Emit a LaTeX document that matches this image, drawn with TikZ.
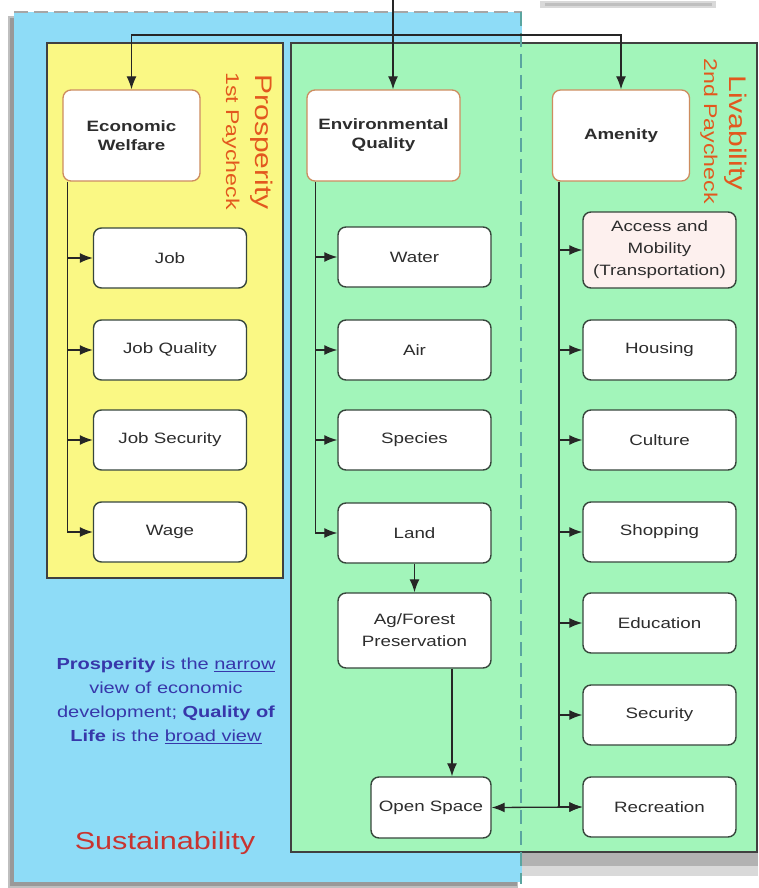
\documentclass[tikz,border=0pt]{standalone}
\usepackage{fontspec}
\setmainfont[FakeStretch=1.25]{Liberation Sans}
\usetikzlibrary{arrows.meta}
\definecolor{skyb}{RGB}{142,220,247}
\definecolor{yel}{RGB}{250,248,132}
\definecolor{grn}{RGB}{162,245,186}
\definecolor{hdrb}{RGB}{205,140,95}
\definecolor{boxb}{RGB}{55,70,60}
\definecolor{txt}{RGB}{45,45,45}
\definecolor{lbl}{RGB}{226,88,30}
\definecolor{sust}{RGB}{200,52,48}
\definecolor{para}{RGB}{55,55,170}
\definecolor{sepcol}{RGB}{90,165,160}
\definecolor{pinkf}{RGB}{253,240,238}
\begin{document}
\begin{tikzpicture}[x=1pt,y=-1pt,
  hdr/.style={draw=hdrb, line width=1.3pt, fill=white, rounded corners=8pt, minimum width=137pt, minimum height=91pt, align=center, font=\fontsize{15}{19}\selectfont\bfseries, text=txt},
  item/.style={draw=boxb, line width=1.4pt, fill=white, rounded corners=8pt, minimum width=153pt, minimum height=60pt, align=center, font=\fontsize{15}{22}\selectfont, text=txt},
  wire/.style={draw=black!85, line width=1.3pt},
  arr/.style={wire, -{Latex[length=13pt,width=10pt]}},
  arrb/.style={wire, {Latex[length=13pt,width=10pt]}-{Latex[length=13pt,width=10pt]}},
  rlbl/.style={rotate=-90, text=lbl, inner sep=0pt}
]
\useasboundingbox (0,0) rectangle (758,888);
\fill[white] (0,0) rectangle (758,888);
% shadow at top right
\fill[black!15] (540,1) rectangle (716,8);
\fill[black!25] (545,3) rectangle (712,6);
% blue sustainability region with shadow
\fill[black!25] (8,16) rectangle (518,888);
\fill[black!40] (10,18) rectangle (517,886);
\fill[skyb] (14,12) rectangle (522,882);
\draw[black!35, dash pattern=on 14pt off 6pt, line width=1.5pt] (14,12) -- (522,12);
% green region shadow
\fill[black!15] (522,852) rectangle (758,876);
\fill[black!30] (522,852) rectangle (758,866);
% yellow prosperity region
\fill[yel, draw=black!75, line width=1.2pt] (47,43) rectangle (283,578);
% green region
\fill[grn, draw=black!75, line width=1.2pt] (291,43) rectangle (757,852);
% dashed separator
\draw[sepcol, dash pattern=on 14pt off 7pt, line width=1.5pt] (521,12) -- (521,884);

% header nodes
\node[hdr] (econ) at (131.5,135.5) {Economic\\Welfare};
\node[hdr, minimum width=153pt] (env) at (383.5,135.5) {Environmental\\Quality};
\node[hdr] (amen) at (621,135.5) {Amenity};

% column 1
\node[item] (job) at (170,258) {Job};
\node[item] (jobq) at (170,350) {Job Quality};
\node[item] (jobs) at (170,440) {Job Security};
\node[item] (wage) at (170,532) {Wage};
% column 2
\node[item] (water) at (414.5,257) {Water};
\node[item] (air) at (414.5,350) {Air};
\node[item] (species) at (414.5,440) {Species};
\node[item] (land) at (414.5,533) {Land};
\node[item, minimum height=75pt] (ag) at (414.5,630.5) {Ag/Forest\\Preservation};
\node[item, minimum width=120pt, minimum height=61pt] (open) at (431,807.5) {Open Space};
% column 3
\node[item, fill=pinkf, minimum height=76pt] (access) at (659.5,250) {Access and\\Mobility\\(Transportation)};
\node[item] (housing) at (659.5,350) {Housing};
\node[item] (culture) at (659.5,440) {Culture};
\node[item] (shopping) at (659.5,532) {Shopping};
\node[item] (education) at (659.5,623) {Education};
\node[item] (security) at (659.5,715) {Security};
\node[item] (rec) at (659.5,807) {Recreation};

% rotated labels
\node[rlbl, font=\fontsize{24}{26}\selectfont] (prosp) at (262,142) {Prosperity};
\node[rlbl, font=\fontsize{18.5}{20}\selectfont] (pay1) at (231,141) {1st Paycheck};
\node[rlbl, font=\fontsize{24}{26}\selectfont] (liv) at (736,133) {Livability};
\node[rlbl, font=\fontsize{18.5}{20}\selectfont] (pay2) at (709,131) {2nd Paycheck};

% paragraph and title
\node[text=para, align=center, font=\fontsize{16}{24}\selectfont, inner sep=0pt] (note) at (166,701)
  {\textbf{Prosperity} is the \underline{narrow}\\view of economic\\development; \textbf{Quality of}\\\textbf{Life} is the \underline{broad view}};
\node[text=sust, font=\fontsize{24.5}{28}\selectfont, inner sep=0pt] (sus) at (165,843) {Sustainability};

% top connectors
\coordinate (src) at (393,0);
\coordinate (tj) at (393,35);
\draw[wire] (src) -- (tj);
\draw[arr] (tj) -| (econ.north);
\draw[arr] (tj) -| (amen.north);
\draw[arr] (tj) -- (env.north -| tj);

% column 1 connectors
\coordinate (c1) at ([xshift=5pt]econ.south west);
\draw[wire] (c1) -- (c1 |- wage.west);
\foreach \n in {job,jobq,jobs,wage} \draw[arr] (c1 |- \n.west) -- (\n.west);
% column 2 connectors
\coordinate (c2) at ([xshift=9pt]env.south west);
\draw[wire] (c2) -- (c2 |- land.west);
\foreach \n in {water,air,species,land} \draw[arr] (c2 |- \n.west) -- (\n.west);
\draw[arr] (land.south) -- (ag.north);
\coordinate (c4) at ([xshift=37.5pt]ag.south);
\draw[arr] (c4) -- (c4 |- open.north);
% column 3 connectors
\coordinate (c3) at ([xshift=7pt]amen.south west);
\draw[wire] (c3) -- (c3 |- rec.west);
\foreach \n in {access,housing,culture,shopping,education,security,rec} \draw[arr] (c3 |- \n.west) -- (\n.west);
\draw[arrb] (open.east) -- (rec.west);
\end{tikzpicture}
\end{document}
